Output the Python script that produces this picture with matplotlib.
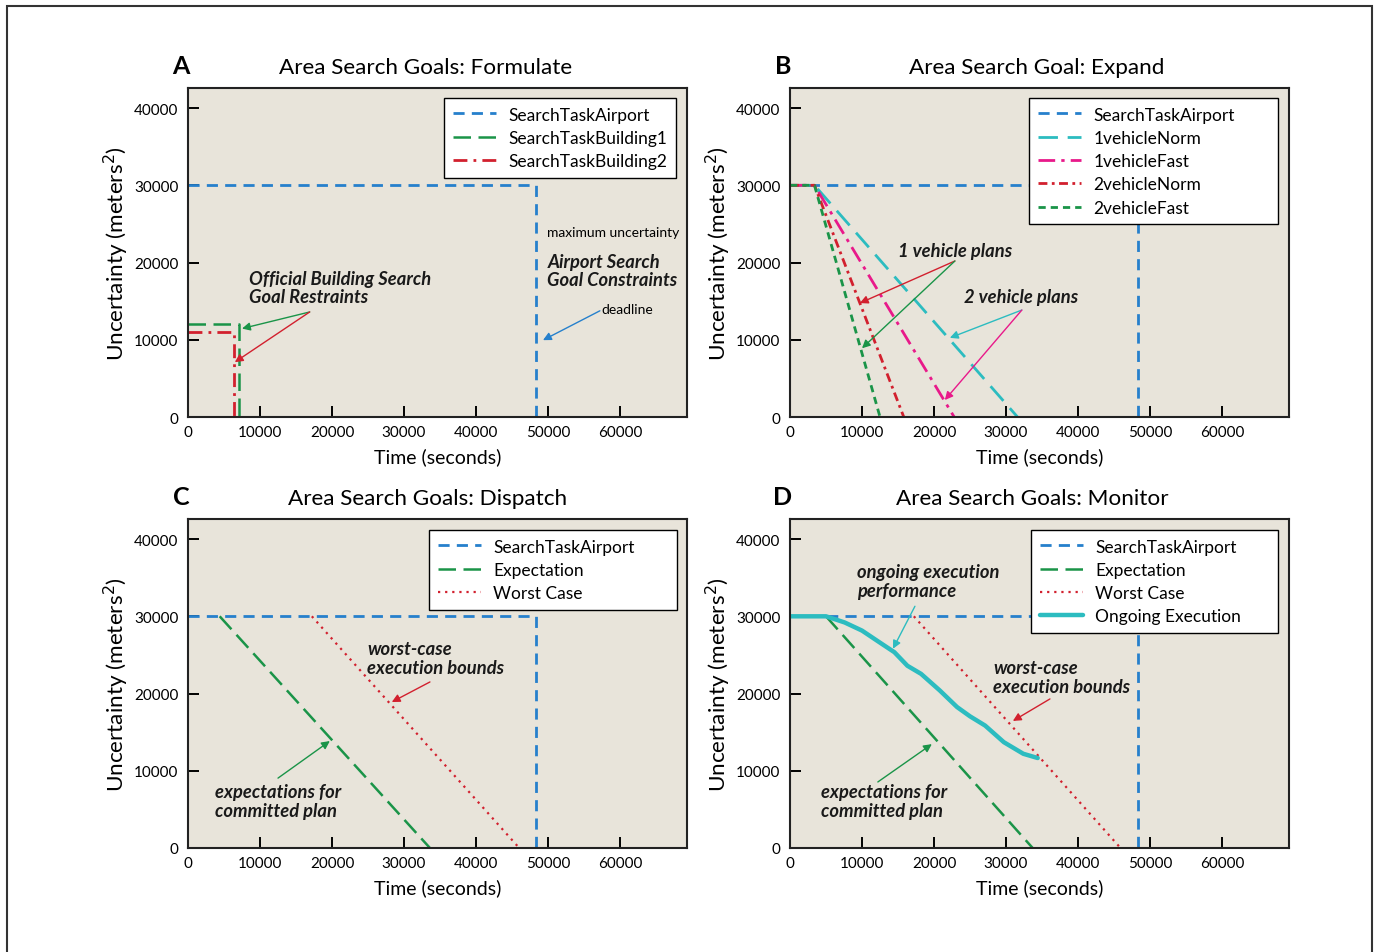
import matplotlib
matplotlib.use("Agg")
import matplotlib.pyplot as plt
from matplotlib.patches import Rectangle

plt.rcParams['font.family'] = ['Lato', 'DejaVu Sans']

# ---- data (time in seconds, uncertainty in m^2) ----
airport_t = [0, 48300, 48300]
airport_u = [30000, 30000, 0]

building1_t = [0, 7100, 7100]
building1_u = [12000, 12000, 0]
building2_t = [0, 6400, 6400]
building2_u = [11000, 11000, 0]

veh1_norm_t = [0, 3400, 31600]
veh1_norm_u = [30000, 30000, 0]
veh1_fast_t = [0, 3400, 22800]
veh1_fast_u = [30000, 30000, 0]
veh2_norm_t = [0, 3400, 15800]
veh2_norm_u = [30000, 30000, 0]
veh2_fast_t = [0, 3400, 12500]
veh2_fast_u = [30000, 30000, 0]

expect_c_t = [4400, 33600]
expect_c_u = [30000, 0]
worst_c_t = [17200, 46000]
worst_c_u = [30000, 0]

expect_d_t = [5000, 33700]
expect_d_u = [30000, 0]
worst_d_t = [17200, 45900]
worst_d_u = [30000, 0]

ongoing_t = [0, 5000, 7600, 10000, 12400, 14500, 16300, 18200, 20800,
             23200, 25000, 27100, 29700, 32400, 34400]
ongoing_u = [30000, 30000, 29200, 28150, 26650, 25350, 23600, 22550, 20400,
             18250, 17050, 15850, 13700, 12200, 11650]

x_ticks = [0, 10000, 20000, 30000, 40000, 50000, 60000]
y_ticks = [0, 10000, 20000, 30000, 40000]

BLUE = '#2680cc'
GREEN = '#1a9448'
RED = '#d2202e'
CYAN = '#2cbcc0'
MAGENTA = '#e8198a'
BG = '#e8e4da'

W, H = 1375, 953
fig = plt.figure(figsize=(W / 100, H / 100), dpi=100)

# outer frame
fig.patches.append(Rectangle((7 / W, -0.05), (1372 - 7) / W, 1 - 7 / H + 0.05,
                             transform=fig.transFigure, fill=False,
                             edgecolor='#333333', linewidth=1.5))


def make_axes(left_px, top_px, letter, title, title_x):
    ax = fig.add_axes([left_px / W, 1 - (top_px + 329) / H, 499 / W, 329 / H])
    ax.set_facecolor(BG)
    ax.set_xlim(0, 69300)
    ax.set_ylim(0, 42600)
    ax.set_xticks(x_ticks)
    ax.set_yticks(y_ticks)
    ax.tick_params(direction='in', length=8, width=1.4, labelsize=11, pad=6)
    ax.tick_params(axis='y', pad=7)
    for s in ax.spines.values():
        s.set_linewidth(1.5)
        s.set_color('#222222')
    ax.set_xlabel('Time (seconds)', fontsize=14)
    ax.set_ylabel('Uncertainty (meters$^2$)', fontsize=16.2)
    ax.xaxis.set_label_coords(0.5, -0.092)
    ax.yaxis.set_label_coords(-0.114, 0.5)
    ax.text(-0.014, 1.068, letter, transform=ax.transAxes, fontsize=18,
            fontweight='bold', ha='center', va='center')
    ax.text(title_x, 1.064, title, transform=ax.transAxes, fontsize=16.2,
            ha='center', va='center')
    return ax


def add_legend(ax, box):
    # box = (left, top, width) in axes fraction; width None -> natural size
    left, top, width = box
    opts = dict(fontsize=12.5, frameon=True, fancybox=False, framealpha=1,
                edgecolor='black', handlelength=2.5, handletextpad=0.7,
                labelspacing=0.42, borderpad=0.5, borderaxespad=0)
    if width is None:
        leg = ax.legend(loc='upper right', bbox_to_anchor=(left, top), **opts)
    else:
        leg = ax.legend(loc='upper left', bbox_to_anchor=(left, top - 0.5, width, 0.5),
                        mode='expand', **opts)
    leg.get_frame().set_linewidth(1.0)
    return leg


def note(ax, x, y, s):
    ax.text(x, y, s, fontsize=13.2, fontweight='bold', style='italic',
            ha='left', va='center', linespacing=1.1, color='#1a1a1a')


def arrow(ax, tail, head, color):
    ax.annotate('', xy=head, xytext=tail,
                arrowprops=dict(arrowstyle='-|>', color=color, lw=1.0,
                                mutation_scale=12, shrinkA=0, shrinkB=0))


airport_style = dict(color=BLUE, lw=2, linestyle=(0, (4, 2.6)))
long_green = dict(color=GREEN, lw=1.8, linestyle=(0, (7, 3)))
dotted_red = dict(color=RED, lw=1.6, linestyle=(0, (1, 2.2)))

# ---- A ----
axA = make_axes(188, 89, 'A', 'Area Search Goals: Formulate', 0.477)
axA.plot(airport_t, airport_u, label='SearchTaskAirport', **airport_style)
axA.plot(building1_t, building1_u, label='SearchTaskBuilding1', **long_green)
axA.plot(building2_t, building2_u, label='SearchTaskBuilding2', color=RED, lw=2,
         linestyle=(0, (5, 2.2, 1, 2.2)))
add_legend(axA, (0.978, 0.970, None))
axA.text(49900, 23950, 'maximum uncertainty', fontsize=10, ha='left', va='center')
note(axA, 49900, 18950, 'Airport Search\nGoal Constraints')
axA.text(57400, 13950, 'deadline', fontsize=10, ha='left', va='center')
arrow(axA, (57200, 13750), (49300, 9950), BLUE)
note(axA, 8450, 16750, 'Official Building Search\nGoal Restraints')
arrow(axA, (16900, 13600), (7500, 11450), GREEN)
arrow(axA, (16900, 13600), (6500, 7100), RED)

# ---- B ----
axB = make_axes(790, 89, 'B', 'Area Search Goal: Expand', 0.495)
axB.plot(airport_t, airport_u, label='SearchTaskAirport', **airport_style)
axB.plot(veh1_norm_t, veh1_norm_u, label='1vehicleNorm', color=CYAN, lw=2,
         linestyle=(0, (7, 3.5)))
axB.plot(veh1_fast_t, veh1_fast_u, label='1vehicleFast', color=MAGENTA, lw=2,
         linestyle=(0, (6, 2.2, 1.2, 2.2)))
axB.plot(veh2_norm_t, veh2_norm_u, label='2vehicleNorm', color=RED, lw=2,
         linestyle=(0, (3.2, 1.6, 1, 1.6)))
axB.plot(veh2_fast_t, veh2_fast_u, label='2vehicleFast', color=GREEN, lw=2,
         linestyle=(0, (2.6, 1.8)))
add_legend(axB, (0.479, 0.970, 0.499))
note(axB, 15000, 21500, '1 vehicle plans')
arrow(axB, (22900, 20200), (9700, 14750), RED)
arrow(axB, (22900, 20200), (10000, 8900), GREEN)
note(axB, 24200, 15650, '2 vehicle plans')
arrow(axB, (32200, 13850), (22200, 10250), CYAN)
arrow(axB, (32200, 13850), (21500, 2200), MAGENTA)

# ---- C ----
axC = make_axes(188, 520, 'C', 'Area Search Goals: Dispatch', 0.481)
axC.plot(airport_t, airport_u, label='SearchTaskAirport', **airport_style)
axC.plot(expect_c_t, expect_c_u, label='Expectation', **long_green)
axC.plot(worst_c_t, worst_c_u, label='Worst Case', **dotted_red)
add_legend(axC, (0.483, 0.967, 0.497))
note(axC, 24850, 24600, 'worst-case\nexecution bounds')
arrow(axC, (33600, 21500), (28300, 18900), RED)
note(axC, 3750, 6100, 'expectations for\ncommitted plan')
arrow(axC, (12500, 9050), (19700, 13850), GREEN)

# ---- D ----
axD = make_axes(790, 520, 'D', 'Area Search Goals: Monitor', 0.485)
axD.plot(airport_t, airport_u, label='SearchTaskAirport', **airport_style)
axD.plot(expect_d_t, expect_d_u, label='Expectation', **long_green)
axD.plot(worst_d_t, worst_d_u, label='Worst Case', **dotted_red)
axD.plot(ongoing_t, ongoing_u, label='Ongoing Execution', color=CYAN, lw=3.2,
         solid_capstyle='round')
add_legend(axD, (0.483, 0.967, 0.495))
note(axD, 9300, 34550, 'ongoing execution\nperformance')
arrow(axD, (17350, 31300), (14300, 25800), CYAN)
note(axD, 28200, 22150, 'worst-case\nexecution bounds')
arrow(axD, (36100, 19300), (30950, 16450), RED)
note(axD, 4300, 6100, 'expectations for\ncommitted plan')
arrow(axD, (12200, 8550), (19700, 13450), GREEN)

fig.savefig('out.png', dpi=100)
